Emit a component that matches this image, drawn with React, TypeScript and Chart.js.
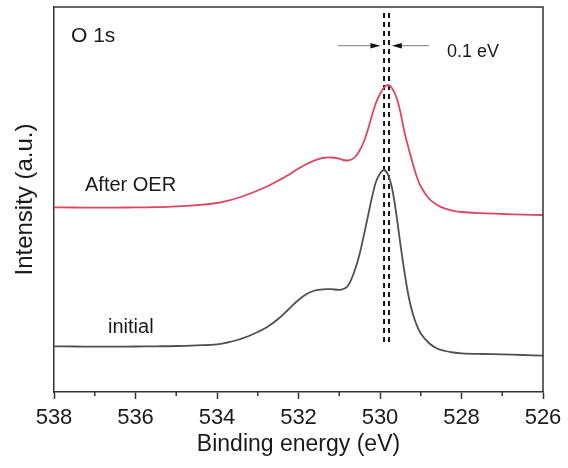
import React, { useEffect, useRef } from "react";
import { Chart, registerables } from "chart.js";

Chart.register(...registerables);

// Binding energy grid (eV)
const energies = [
  538, 537.5, 537, 536.5, 536, 535.5, 535, 534.5, 534, 533.75, 533.5, 533.25, 533,
  532.75, 532.5, 532.25, 532, 531.8, 531.6, 531.4, 531.2, 531.0, 530.9, 530.8, 530.7,
  530.6, 530.5, 530.4, 530.3, 530.2, 530.1, 530.0, 529.9, 529.8, 529.7, 529.6, 529.5,
  529.4, 529.3, 529.2, 529.1, 529.0, 528.8, 528.6, 528.4, 528.2, 528.0, 527.5, 527,
  526.5, 526,
];

// Intensity (a.u.) – initial sample
const initialIntensity = [
  45.7, 45.5, 45.4, 45.3, 45.5, 45.7, 46, 46.7, 47.7, 49.5, 52, 55.5, 60,
  65.5, 73, 82.5, 92, 98, 101.5, 102.7, 102.8, 102.2, 103, 105.5, 113,
  124, 138, 156, 175, 194, 210, 218.5, 222, 217, 203, 178, 148,
  120, 96, 79, 67, 58.5, 49, 43.5, 41, 39.5, 38.7, 38, 37.6,
  37, 36.3,
];

// Intensity (a.u.) – after OER
const afterOerIntensity = [
  184.7, 184.5, 184.3, 184.4, 184.6, 184.8, 185.7, 186.8, 189, 191.2, 194, 197.5, 201.5,
  206, 211.3, 217, 223.5, 228, 231.7, 234, 234.5, 233.4, 232, 231.5, 232.5,
  235.5, 241.5, 250, 262, 276, 289, 298, 304.5, 307, 303.5, 295, 280,
  260, 244, 229, 215.5, 205.5, 193.5, 187, 183.3, 181.2, 180, 178.8, 178,
  177.4, 177,
];

// Peak markers (eV) and their vertical extent (a.u.)
const peakPositions = [529.9, 529.78];
const peakLineRange = [50, 379];

// Shift annotation: arrow tails and tips (eV), height (a.u.)
const arrowLeft = [531.03, 529.99];
const arrowRight = [528.8, 529.71];
const arrowLevel = 346.3;

const xMin = 526;
const xMax = 538;
const yMin = 0;
const yMax = 385;

const FONT = "'Liberation Sans', Arial, sans-serif";
const TEXT = "#1a1a1a";
const AXIS = "#333333";

export default function App() {
  const ref = useRef<HTMLCanvasElement | null>(null);

  useEffect(() => {
    const canvas = ref.current;
    if (!canvas) return;

    const frameAndExtras = {
      id: "frameAndExtras",
      afterDatasetsDraw(chart: any) {
        const { ctx, chartArea, scales } = chart;
        const xs = scales.x;
        const ys = scales.y;
        ctx.save();
        // top & right frame
        ctx.strokeStyle = AXIS;
        ctx.lineWidth = 1.5;
        ctx.beginPath();
        ctx.moveTo(chartArea.left, chartArea.top);
        ctx.lineTo(chartArea.right, chartArea.top);
        ctx.lineTo(chartArea.right, chartArea.bottom);
        ctx.stroke();
        // minor ticks
        ctx.lineWidth = 1.5;
        for (let v = xMin + 1; v < xMax; v += 2) {
          const px = xs.getPixelForValue(v);
          ctx.beginPath();
          ctx.moveTo(px, chartArea.bottom);
          ctx.lineTo(px, chartArea.bottom + 4);
          ctx.stroke();
        }
        // arrows
        const ay = ys.getPixelForValue(arrowLevel);
        const drawArrow = (from: number, to: number) => {
          const x0 = xs.getPixelForValue(from);
          const x1 = xs.getPixelForValue(to);
          const dir = Math.sign(x1 - x0);
          ctx.strokeStyle = "#777777";
          ctx.lineWidth = 1;
          ctx.beginPath();
          ctx.moveTo(x0, ay);
          ctx.lineTo(x1 - dir * 8, ay);
          ctx.stroke();
          ctx.fillStyle = "#111111";
          ctx.beginPath();
          ctx.moveTo(x1, ay);
          ctx.lineTo(x1 - dir * 10, ay - 2.7);
          ctx.lineTo(x1 - dir * 10, ay + 2.7);
          ctx.closePath();
          ctx.fill();
        };
        drawArrow(arrowLeft[0], arrowLeft[1]);
        drawArrow(arrowRight[0], arrowRight[1]);
        // texts
        ctx.fillStyle = TEXT;
        ctx.textAlign = "left";
        ctx.textBaseline = "alphabetic";
        ctx.font = `21px ${FONT}`;
        ctx.fillText("O 1s", chartArea.left + 17, chartArea.top + 35);
        ctx.font = `18px ${FONT}`;
        ctx.fillText("0.1 eV", chartArea.left + 393, chartArea.top + 50);
        ctx.font = `20px ${FONT}`;
        ctx.fillText("After OER", chartArea.left + 31, chartArea.top + 184);
        ctx.fillText("initial", chartArea.left + 54, chartArea.top + 326);
        ctx.restore();
      },
    };

    const toPts = (ys: number[]) => energies.map((e, i) => ({ x: e, y: ys[i] }));

    const chart = new Chart(canvas, {
      type: "line",
      data: {
        datasets: [
          {
            label: "initial",
            data: toPts(initialIntensity),
            borderColor: "#505050",
            borderWidth: 1.8,
            pointRadius: 0,
            tension: 0.35,
            fill: false,
          },
          {
            label: "After OER",
            data: toPts(afterOerIntensity),
            borderColor: "#de4560",
            borderWidth: 1.8,
            pointRadius: 0,
            tension: 0.35,
            fill: false,
          },
          ...peakPositions.map((p, i) => ({
            label: `peak${i}`,
            data: [
              { x: p, y: peakLineRange[0] },
              { x: p, y: peakLineRange[1] },
            ],
            borderColor: "#111111",
            borderWidth: 2,
            borderDash: [5, 4],
            pointRadius: 0,
            fill: false,
          })),
        ],
      },
      options: {
        animation: false,
        responsive: false,
        maintainAspectRatio: false,
        events: [],
        layout: { padding: { top: 7, right: 25, left: 0, bottom: 0 } },
        plugins: {
          legend: { display: false },
          tooltip: { enabled: false },
        },
        scales: {
          x: {
            type: "linear",
            min: xMin,
            max: xMax,
            reverse: true,
            afterFit: (s: any) => {
              s.height = 76;
            },
            ticks: {
              stepSize: 1,
              autoSkip: false,
              maxRotation: 0,
              padding: 6,
              color: TEXT,
              font: { family: FONT, size: 22 },
              callback: (v: any) => (Number(v) % 2 === 0 ? String(v) : ""),
            },
            grid: {
              display: true,
              drawOnChartArea: false,
              drawTicks: true,
              tickLength: 7,
              tickWidth: 1.5,
              tickColor: (c: any) =>
                c.tick && Number(c.tick.value) % 2 === 0 ? AXIS : "rgba(0,0,0,0)",
            },
            border: { display: true, color: AXIS, width: 1.5 },
            title: {
              display: true,
              text: "Binding energy (eV)",
              color: TEXT,
              font: { family: FONT, size: 23 },
              padding: { top: 0, bottom: 10 },
            },
          },
          y: {
            type: "linear",
            min: yMin,
            max: yMax,
            afterFit: (s: any) => {
              s.width = 54;
            },
            ticks: { display: false },
            grid: { display: false },
            border: { display: true, color: AXIS, width: 1.5 },
            title: {
              display: true,
              text: "Intensity (a.u.)",
              color: TEXT,
              font: { family: FONT, size: 24 },
              padding: { top: 11, bottom: 0 },
            },
          },
        },
      },
      plugins: [frameAndExtras],
    });

    return () => chart.destroy();
  }, []);

  return (
    <div style={{ position: "fixed", left: 0, top: 0, width: 568, height: 468, background: "#fff" }}>
      <canvas ref={ref} width={568} height={468} style={{ width: 568, height: 468, display: "block" }} />
    </div>
  );
}
